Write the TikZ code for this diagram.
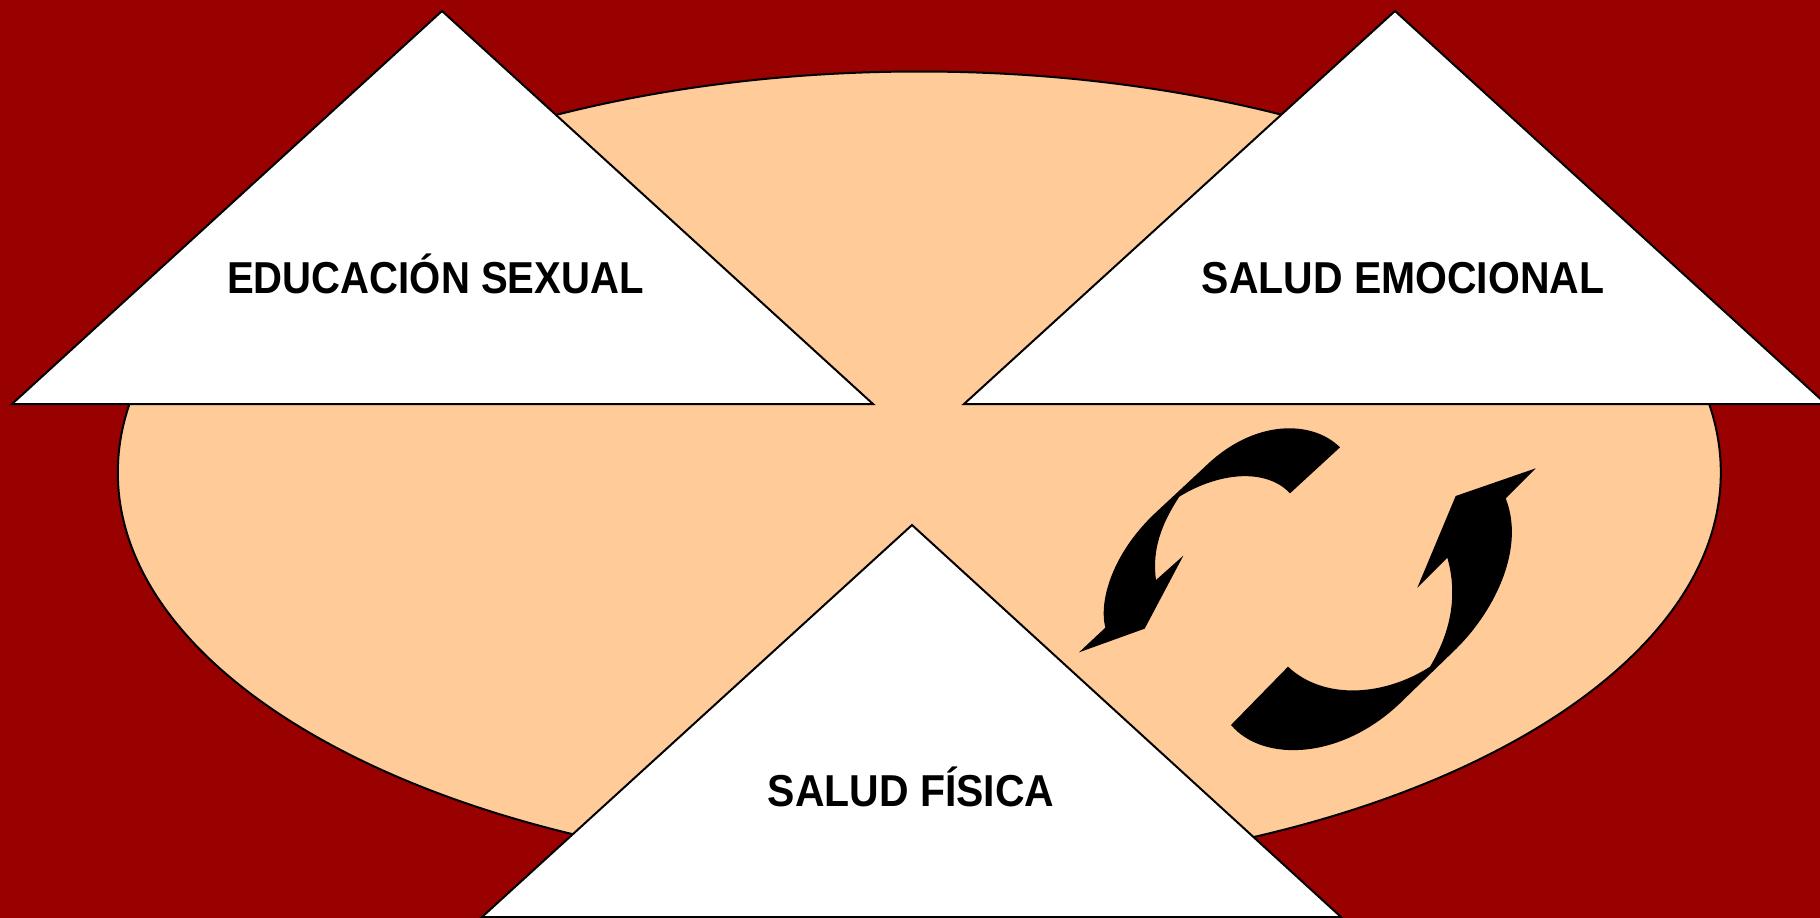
\documentclass[tikz,border=0pt]{standalone}
\usepackage{graphicx}
\usepackage{fontspec}
\setmainfont{Liberation Sans}
\definecolor{bgred}{HTML}{990000}
\definecolor{peach}{HTML}{FFCC99}
\tikzset{
  tri/.style={draw=black,fill=white,line width=2pt,line join=miter},
  lbl/.style={anchor=base,inner sep=0pt,font=\fontsize{44.7pt}{50pt}\selectfont\bfseries},
  cyc/.style={fill=black,draw=none}
}
\newcommand{\squeezed}[2]{\scalebox{#1}[1]{#2}}
\begin{document}
\begin{tikzpicture}[x=1pt,y=-1pt]
\useasboundingbox (0,0) rectangle (1820,918);
\clip (0,0) rectangle (1820,918);
\fill[bgred] (0,0) rectangle (1820,918);
\draw[fill=peach,draw=black,line width=2pt] (919.3,472.5) ellipse [x radius=801.5,y radius=401];
\draw[tri] (442,11) -- (873,404) -- (12,404) -- cycle;
\draw[tri] (1395,11) -- (1826,404) -- (964,404) -- cycle;
\draw[tri] (912,525) -- (1341,917) -- (482,917) -- cycle;
\node[lbl] (edu) at (435.5,293) {\squeezed{0.897}{EDUCACIÓN SEXUAL}};
\node[lbl] (emo) at (1403,293) {\squeezed{0.916}{SALUD EMOCIONAL}};
\node[lbl] (fis) at (911,806) {\squeezed{0.916}{SALUD FÍSICA}};
\begin{scope}[shift={(1050,400)},x=0.33333pt,y=-0.33333pt]
\fill[cyc] (870,142) .. controls (785,58) and (610,58) .. (465,200) -- (320,335)
  .. controls (190,455) and (145,600) .. (166,683) -- (87,757) -- (284,686) -- (400,467) -- (318,540)
  .. controls (305,450) and (335,370) .. (388,290)
  .. controls (510,215) and (650,205) .. (720,280) -- cycle;
\fill[cyc] (543,975) .. controls (640,1090) and (880,1080) .. (1060,900) -- (1220,745)
  .. controls (1340,625) and (1425,440) .. (1367,295) -- (1457,205) -- (1217,288) -- (1102,563) -- (1192,473)
  .. controls (1225,590) and (1200,700) .. (1140,800)
  .. controls (1000,890) and (820,900) .. (714,800) -- cycle;
\end{scope}
\end{tikzpicture}
\end{document}
